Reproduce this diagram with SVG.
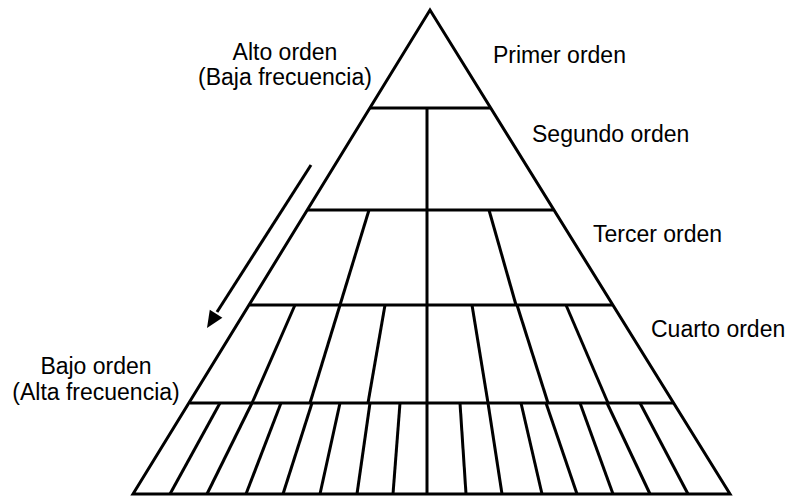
<svg xmlns="http://www.w3.org/2000/svg" width="786" height="498" viewBox="0 0 786 498">
<defs>
<style>
.ln{stroke:#000;stroke-width:3;fill:none;stroke-linecap:butt}
.t{font-family:"Liberation Sans",Arial,sans-serif;font-size:23px;fill:#000}
.m{text-anchor:middle}
</style>
</defs>
<rect width="786" height="498" fill="#fff"/>
<g id="pyramid">
<path class="ln" d="M133,494 L430,10 L730,494 Z" stroke-linejoin="miter"/>
</g>
<g id="tier1-primer"><line class="ln" x1="370" y1="108" x2="491" y2="108"/></g>
<g id="tier2-segundo">
<line class="ln" x1="308" y1="210" x2="553" y2="210"/>
<line class="ln" x1="369" y1="210" x2="340" y2="305"/>
<line class="ln" x1="489" y1="210" x2="516" y2="305"/>
</g>
<g id="tier3-tercer">
<line class="ln" x1="250" y1="305" x2="612" y2="305"/>
<line class="ln" x1="295" y1="305" x2="252" y2="403"/>
<line class="ln" x1="340" y1="305" x2="310" y2="403"/>
<line class="ln" x1="385" y1="305" x2="368" y2="403"/>
<line class="ln" x1="472" y1="305" x2="488" y2="403"/>
<line class="ln" x1="517" y1="305" x2="548" y2="403"/>
<line class="ln" x1="566" y1="305" x2="608" y2="403"/>
</g>
<g id="tier4-cuarto">
<line class="ln" x1="190" y1="403" x2="673" y2="403"/>
<line class="ln" x1="220" y1="403" x2="170" y2="494"/>
<line class="ln" x1="252" y1="403" x2="207" y2="494"/>
<line class="ln" x1="281" y1="403" x2="246" y2="494"/>
<line class="ln" x1="312" y1="403" x2="283" y2="494"/>
<line class="ln" x1="340" y1="403" x2="320" y2="494"/>
<line class="ln" x1="370" y1="403" x2="357" y2="494"/>
<line class="ln" x1="400" y1="403" x2="393" y2="494"/>
<line class="ln" x1="460" y1="403" x2="466" y2="494"/>
<line class="ln" x1="488" y1="403" x2="502" y2="494"/>
<line class="ln" x1="521" y1="403" x2="542" y2="494"/>
<line class="ln" x1="546" y1="403" x2="577" y2="494"/>
<line class="ln" x1="580" y1="403" x2="613" y2="494"/>
<line class="ln" x1="607" y1="403" x2="650" y2="494"/>
<line class="ln" x1="640" y1="403" x2="688" y2="494"/>
</g>
<g id="center-axis"><line class="ln" x1="427" y1="108" x2="427" y2="494"/></g>
<g id="connectors">
<line class="ln" x1="311" y1="165" x2="217" y2="312"/>
<polygon points="207,328 209.8,309.7 222.4,317.7" fill="#000"/>
</g>
<g id="labels">
<text class="t m" x="285" y="60">Alto orden</text>
<text class="t m" x="285" y="85">(Baja frecuencia)</text>
<text class="t" x="493" y="63">Primer orden</text>
<text class="t" x="532" y="142">Segundo orden</text>
<text class="t" x="593" y="242">Tercer orden</text>
<text class="t" x="651" y="337">Cuarto orden</text>
<text class="t m" x="96" y="374">Bajo orden</text>
<text class="t m" x="96" y="400">(Alta frecuencia)</text>
</g>
</svg>
